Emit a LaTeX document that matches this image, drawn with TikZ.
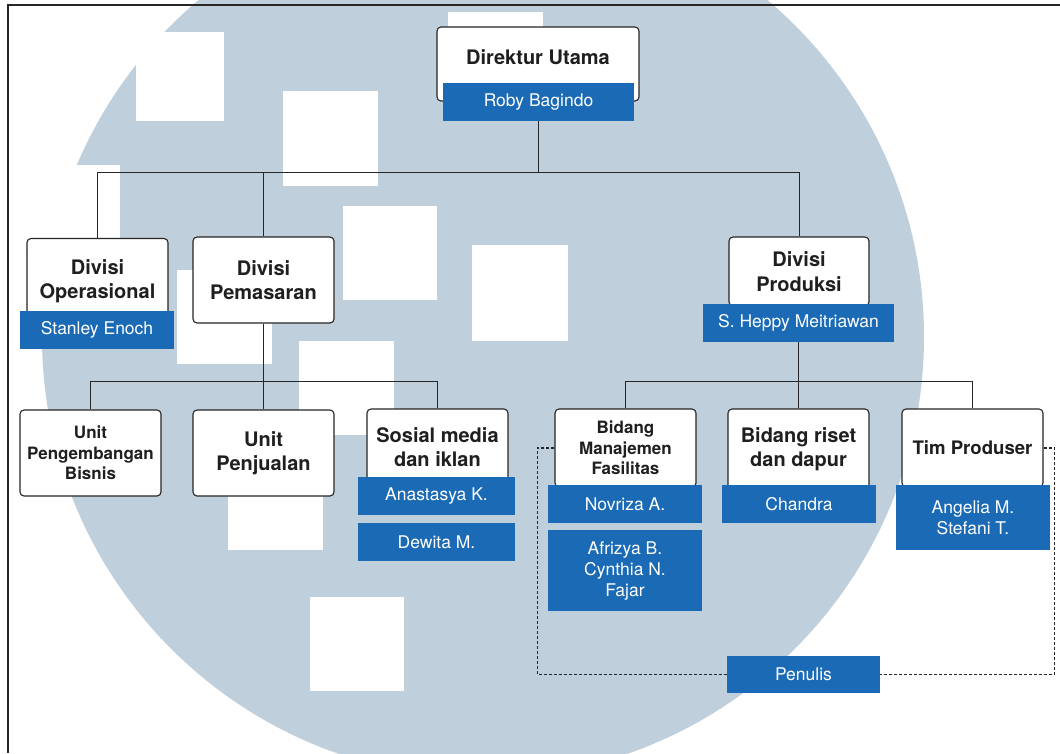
\documentclass[tikz,border=0pt]{standalone}
\usepackage{fontspec}
\setmainfont{TeX Gyre Heros}
\usepackage{tikz}
\definecolor{namablue}{RGB}{26,106,182}
\definecolor{markgray}{RGB}{192,207,220}

\begin{document}
\begin{tikzpicture}[x=1pt, y=-1pt,
  jabatan/.style={draw=black!85, line width=1.1pt, fill=white, rounded corners=4pt, align=center, inner sep=0pt, text=black!88},
  besar/.style={font=\fontsize{20}{24.5}\selectfont\bfseries},
  kecil/.style={font=\fontsize{17}{20.5}\selectfont\bfseries},
  nama/.style={fill=namablue, text=white, align=center, inner sep=0pt, minimum width=154, minimum height=38, font=\fontsize{17.5}{21}\selectfont},
  garis/.style={draw=black!85, line width=1pt},
  putus/.style={draw=black!85, line width=1.6pt, dash pattern=on 3pt off 2pt}]
\useasboundingbox (0,0) rectangle (1060,753);
\clip (0,0) rectangle (1060,753);

% Watermark
\pgfmathsetmacro{\cx}{483}
\pgfmathsetmacro{\cy}{337}
\fill[markgray] (\cx,\cy) circle (441);
\foreach \xa/\ya/\xb/\yb in {136/32/224/121, 283/91/378/186, 448/12/543/100, 343/206/437/300, 472/245/568/341, 25/165/120/260, 177/270/272/364, 299/341/394/435, 228/455/323/550, 310/597/404/691}
  \fill[white] (\xa,\ya) rectangle (\xb,\yb);

% Frame
\draw[black!85, line width=1.6pt] (8,753) -- (8,5) -- (1060,5);

% Top level
\node[jabatan, besar, minimum width=202, minimum height=74] (dirut) at (538,64) {\raisebox{14pt}{Direktur Utama}};
\node[nama, minimum width=191] (roby) at (538.5,102) {Roby Bagindo};

% Divisions
\node[jabatan, besar, minimum width=141, minimum height=85] (operasional) at (97.5,281) {Divisi\\Operasional};
\node[nama] (stanley) at (97,330) {Stanley Enoch};
\node[jabatan, besar, minimum width=141, minimum height=86] (pemasaran) at (263.5,280) {Divisi\\Pemasaran};
\node[jabatan, besar, minimum width=140, minimum height=69] (produksi) at (799,271.5) {Divisi\\Produksi};
\node[nama, minimum width=191] (heppy) at (798.5,323) {S. Heppy Meitriawan};

% Units under Pemasaran
\node[jabatan, kecil, minimum width=141, minimum height=86] (bisnis) at (90.5,453) {Unit\\Pengembangan\\Bisnis};
\node[jabatan, besar, minimum width=141, minimum height=86] (penjualan) at (263.5,453) {Unit\\Penjualan};
\node[jabatan, besar, minimum width=141, minimum height=76] (sosmed) at (437.5,447) {Sosial media\\dan iklan};
\node[nama, minimum width=157] (anastasya) at (436.5,496) {Anastasya K.};
\node[nama, minimum width=157] (dewita) at (436.5,542) {Dewita M.};

% Units under Produksi
\node[jabatan, kecil, minimum width=141, minimum height=78] (fasilitas) at (625.5,448) {Bidang\\Manajemen\\Fasilitas};
\node[nama] (novriza) at (625,504) {Novriza A.};
\node[nama, minimum height=81] (afrizya) at (625,570.5) {Afrizya B.\\Cynthia N.\\Fajar};
\node[jabatan, besar, minimum width=141, minimum height=80] (riset) at (798.5,449) {Bidang riset\\dan dapur};
\node[nama] (chandra) at (799,504) {Chandra};
\node[jabatan, font=\fontsize{18.6}{22}\selectfont\bfseries, minimum width=141, minimum height=78] (produser) at (972.5,448) {Tim Produser};
\node[nama, minimum height=65] (angelia) at (973,517.5) {Angelia M.\\Stefani T.};
\node[nama, minimum width=153, minimum height=37] (penulis) at (803.5,674.5) {Penulis};

% Draw connectors
\coordinate (busA) at (538,172);
\draw[garis] (roby.south) -- (roby.south |- busA);
\draw[garis] (operasional.north) -- (operasional.north |- busA) -- (produksi.north |- busA) -- (produksi.north);
\draw[garis] (pemasaran.north) -- (pemasaran.north |- busA);

\coordinate (busB) at (263.5,381);
\draw[garis] (pemasaran.south) -- (penjualan.north);
\draw[garis] (bisnis.north) -- (bisnis.north |- busB) -- (sosmed.north |- busB) -- (sosmed.north);

\coordinate (busC) at (798.5,381);
\draw[garis] (heppy.south) -- (riset.north);
\draw[garis] (fasilitas.north) -- (fasilitas.north |- busC) -- (produser.north |- busC) -- (produser.north);

% Dashed link to Penulis
\draw[putus] (fasilitas.west) -- ++(-17,0) |- (penulis.west);
\draw[putus] (produser.east) -- ++(11,0) |- (penulis.east);

\end{tikzpicture}
\end{document}
